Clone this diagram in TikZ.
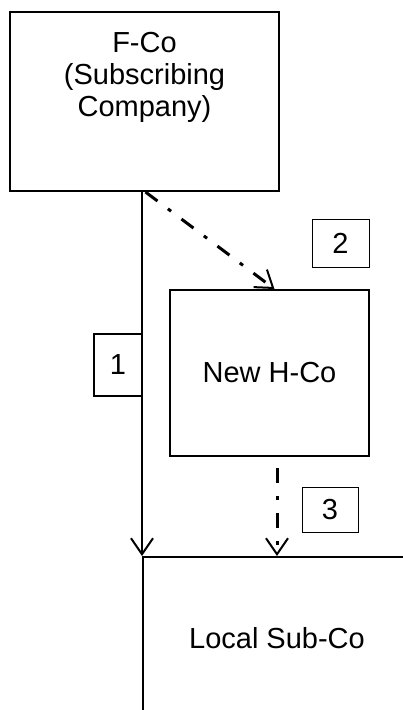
\documentclass[tikz,border=0pt]{standalone}
\usepackage{fontspec}
\setmainfont{Liberation Sans}
\usetikzlibrary{calc, positioning, arrows.meta}
\definecolor{InkBlack}{RGB}{0, 0, 0}

\tikzset{
  company/.style={draw=InkBlack, line width=2pt, rectangle, inner sep=0pt, font=\fontsize{29}{32}\selectfont, align=center},
  stepnum/.style={draw=InkBlack, line width=1pt, rectangle, inner sep=0pt, font=\fontsize{29}{32}\selectfont},
  barb/.style={-{Straight Barb[length=16pt, width=22pt, line width=2pt]}},
  dashdot/.style={line width=3pt, dash pattern=on 15pt off 13pt on 4pt off 13pt}
}

\begin{document}
\begin{tikzpicture}[x=1pt, y=1pt]
    \useasboundingbox (0,0) rectangle (403,-710);
    \clip (0,0) rectangle (403,-710);
    % companies
    \node[company, minimum width=269pt, minimum height=179pt] (fco) at (144.5,-101.5) {};
    \node[below=21pt of fco.north, inner sep=0pt, align=center, font=\fontsize{29}{32}\selectfont] (fcolabel) {F-Co\\(Subscribing\\Company)};
    \node[company, minimum width=199pt, minimum height=166pt] (hco) at (269.5,-373) {New H-Co};
    \node[company, minimum width=268pt, minimum height=162pt] (lsub) at (277,-638) {Local Sub-Co};
    % step numbers
    \node[stepnum, line width=2pt, minimum width=48pt, minimum height=62pt] (one) at (118,-365) {1};
    \node[stepnum, minimum width=57pt, minimum height=48pt] (two) at (340.5,-243) {2};
    \node[stepnum, minimum width=56pt, minimum height=45pt] (three) at (330,-509.5) {3};
    % flows
    \draw[barb, InkBlack, line width=2pt] (fco.south -| lsub.north west) -- (lsub.north west);
    \draw[barb, InkBlack, dashdot] ([xshift=1pt]fco.south) -- ([xshift=5pt]hco.north);
    \draw[barb, InkBlack, dashdot] ($(lsub.north |- hco.south)+(0,-11)$) -- (lsub.north);
\end{tikzpicture}
\end{document}
